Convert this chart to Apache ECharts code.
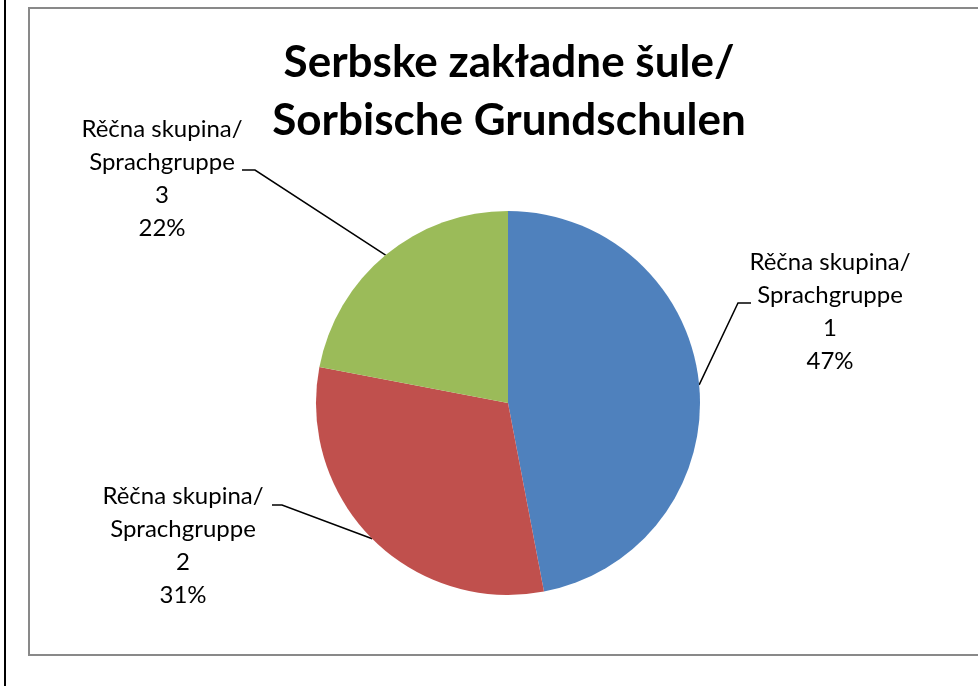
<!DOCTYPE html>
<html>
<head>
<meta charset="utf-8">
<title>Serbske zakładne šule</title>
<script src="https://cdn.jsdelivr.net/npm/echarts@6/dist/echarts.min.js"></script>
<style>
  html, body { margin: 0; padding: 0; background: #fff; }
  #main { width: 978px; height: 686px; }
</style>
</head>
<body>
<!-- container for the pie -->
<div id="main"></div>
<script>
// data
var groupNames = [
  "Rěčna skupina/\nSprachgruppe\n1",
  "Rěčna skupina/\nSprachgruppe\n2",
  "Rěčna skupina/\nSprachgruppe\n3"
]
var groupShares = [47, 31, 22]
var groupColors = ["#4F81BD", "#C0504D", "#9BBB59"]

// where each label sits (center) and the elbow of its leader line
var labelSpots = [
  { x: 830, y: 312, bend: [738, 303], end: [751, 303] },
  { x: 183, y: 546, bend: [282, 505], end: [272, 505] },
  { x: 162, y: 179, bend: [255, 170], end: [242, 170] }
]

var chartDom = document.getElementById("main")
var myChart = echarts.init(chartDom)

var pieData = groupNames.map(function (n, i) {
  return { name: n, value: groupShares[i], itemStyle: { color: groupColors[i] } }
})

var option = {
  animation: false,
  backgroundColor: "#fff",
  title: {
    text: "Serbske zakładne šule/\nSorbische Grundschulen",
    left: 504,
    top: 29,
    textAlign: "center",
    textStyle: {
      fontFamily: "Lato",
      fontWeight: "bold",
      fontSize: 44,
      lineHeight: 58,
      color: "#000"
    }
  },
  graphic: [
    // outer chart frame
    {
      type: "rect",
      shape: { x: 29, y: 8, width: 970, height: 647 },
      style: { fill: "none", stroke: "#898989", lineWidth: 2 }
    },
    // black rule on the far left
    {
      type: "line",
      shape: { x1: 5, y1: 0, x2: 5, y2: 686 },
      style: { stroke: "#000", lineWidth: 2 }
    }
  ],
  series: [
    {
      type: "pie",
      center: [508, 403],
      radius: 192,
      startAngle: 90,
      clockwise: true,
      data: pieData,
      label: {
        show: true,
        position: "outside",
        formatter: "{b}\n{d}%",
        fontFamily: "Lato",
        fontSize: 24,
        lineHeight: 33,
        color: "#000",
        align: "center"
      },
      labelLine: {
        show: true,
        lineStyle: { color: "#000", width: 1.5 }
      },
      labelLayout: function (params) {
        var s = labelSpots[params.dataIndex]
        var pts = params.labelLinePoints
        return {
          x: s.x,
          y: s.y,
          align: "center",
          verticalAlign: "middle",
          labelLinePoints: [pts[0], s.bend, s.end]
        }
      },
      emphasis: { disabled: true }
    }
  ]
}

option && myChart.setOption(option)
</script>
</body>
</html>
